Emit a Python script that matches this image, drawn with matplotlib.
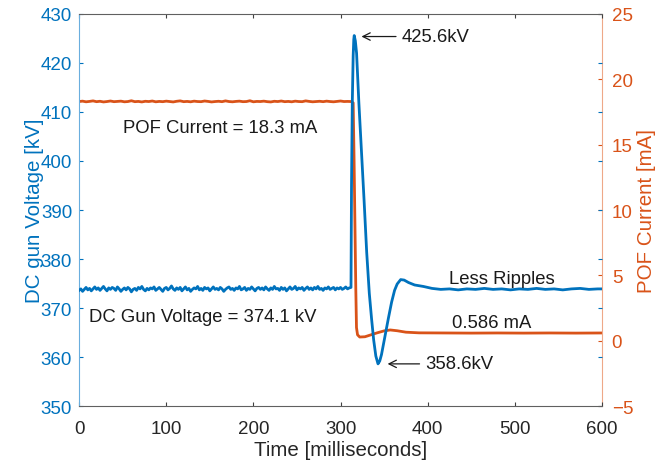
import matplotlib
matplotlib.use("Agg")
import matplotlib.pyplot as plt
import numpy as np

plt.rcParams['font.family'] = ['Liberation Sans', 'DejaVu Sans']

BLUE = '#0072BD'
ORANGE = '#D95319'

# ---- DC gun voltage (kV) ----
blue_pre_t = list(range(0, 312, 2))
blue_pre_v = [
    373.6, 373.9, 373.4, 373.8, 374.2, 373.7, 374.0, 373.5, 373.9, 374.3,
    373.8, 374.1, 373.6, 374.0, 374.4, 373.9, 373.5, 374.1, 373.8, 374.2,
    374.0, 373.6, 374.3, 373.9, 373.4, 373.8, 374.1, 373.7, 374.2, 373.9,
    373.3, 373.8, 374.0, 373.6, 374.2, 373.9, 374.4, 373.8, 373.5, 374.0,
    373.7, 374.1, 373.9, 374.3, 373.6, 373.9, 374.2, 373.8, 373.4, 374.0,
    374.2, 373.7, 374.0, 374.5, 373.9, 373.6, 374.1, 373.8, 374.2, 373.5,
    373.9, 374.3, 373.7, 374.0, 373.4, 373.8, 374.1, 373.9, 374.4, 373.7,
    374.0, 373.6, 374.2, 373.9, 374.1, 373.5, 373.9, 374.3, 373.8, 374.0,
    373.7, 374.2, 373.9, 373.4, 373.8, 374.1, 374.3, 373.8, 374.0, 373.6,
    374.1, 373.9, 374.4, 373.7, 373.9, 374.2, 373.6, 374.0, 373.8, 374.3,
    373.9, 373.5, 374.0, 374.2, 373.8, 374.1, 373.7, 374.3, 373.9, 373.6,
    374.1, 373.8, 374.4, 373.9, 374.0, 373.6, 374.2, 373.8, 374.1, 373.5,
    373.9, 374.3, 373.8, 374.0, 374.4, 373.7, 374.1, 373.9, 374.2, 373.6,
    374.0, 374.3, 373.8, 374.1, 373.7, 374.2, 373.9, 374.4, 373.8, 374.0,
    373.6, 374.1, 373.9, 374.3, 373.8, 374.0, 374.2, 373.7, 374.1, 373.9,
    374.2, 373.8, 374.0, 374.3, 373.9, 374.1,
]
blue_post_t = [312, 312.6, 313.5, 314.5, 315.2, 315.7, 317, 318.4, 321, 324, 327,
               330, 333, 335.6, 338, 340.5, 343, 345, 347, 351, 355, 358.6,
               362, 365, 369, 373, 378, 385, 395, 405, 415, 425, 435, 445,
               455, 465, 475, 485, 495, 505, 515, 525, 535, 545, 555, 565,
               575, 585, 595, 600]
blue_post_v = [374.2, 395.0, 412.0, 421.5, 424.8, 425.6, 424.5, 422.0, 412.0,
               402.0, 392.0, 381.4, 373.0, 367.8, 363.5, 360.2, 358.6, 359.2,
               360.5, 364.3, 368.0, 371.2, 373.6, 374.9, 375.8, 375.7, 375.2,
               374.7, 374.4, 374.0, 373.8, 373.9, 373.7, 373.9, 373.8, 374.0,
               373.8, 373.9, 373.7, 373.9, 373.8, 374.0, 373.8, 373.9, 373.7,
               373.9, 374.0, 373.8, 373.9, 373.9]

# ---- POF current (mA) ----
orange_pre_t = list(range(0, 314, 4))
orange_pre_v = [
    18.30, 18.33, 18.28, 18.31, 18.35, 18.29, 18.32, 18.27, 18.30, 18.34,
    18.29, 18.31, 18.33, 18.28, 18.30, 18.36, 18.29, 18.31, 18.27, 18.32,
    18.30, 18.34, 18.28, 18.31, 18.29, 18.33, 18.30, 18.27, 18.32, 18.35,
    18.29, 18.31, 18.28, 18.33, 18.30, 18.29, 18.34, 18.31, 18.27, 18.30,
    18.32, 18.29, 18.35, 18.30, 18.28, 18.31, 18.33, 18.29, 18.30, 18.36,
    18.28, 18.31, 18.30, 18.33, 18.29, 18.27, 18.32, 18.30, 18.34, 18.29,
    18.31, 18.28, 18.33, 18.30, 18.29, 18.35, 18.31, 18.28, 18.30, 18.32,
    18.29, 18.33, 18.30, 18.28, 18.31, 18.34, 18.30, 18.31, 18.30,
]
orange_post_t = [314.5, 315.5, 316.5, 317.5, 318.3, 319.5, 322, 328, 335, 342,
                 350, 357, 365, 375, 390, 420, 450, 480, 510, 540, 570, 600]
orange_post_v = [18.2, 14.0, 9.0, 4.0, 1.0, 0.45, 0.28, 0.30, 0.45, 0.60,
                 0.75, 0.82, 0.76, 0.65, 0.60, 0.59, 0.58, 0.59, 0.58, 0.59,
                 0.58, 0.59]

fig = plt.figure(figsize=(6.59, 4.64), dpi=100)
ax = fig.add_axes([0.12, 0.1228, 0.7935, 0.8449])
ax2 = ax.twinx()

ax.plot(blue_pre_t + blue_post_t, blue_pre_v + blue_post_v, color=BLUE, lw=2.0, zorder=3)
ax2.plot(orange_pre_t + orange_post_t, orange_pre_v + orange_post_v, color=ORANGE, lw=2.0, zorder=2)

ax.set_xlim(0, 600)
ax.set_ylim(350, 430)
ax2.set_ylim(-5, 25)
ax.set_xticks(range(0, 601, 100))
ax.set_yticks(range(350, 431, 10))
ax2.set_yticks(range(-5, 26, 5))

ax.set_zorder(ax2.get_zorder() + 1)
ax.patch.set_visible(False)

tls = 13.5
ax.tick_params(axis='y', direction='in', right=True, colors=BLUE, labelsize=tls, length=3, pad=5)
ax.tick_params(axis='x', direction='in', top=True, colors='#404040', labelcolor='#262626',
               labelsize=tls, length=3, pad=10)
ax2.tick_params(axis='y', direction='in', colors=ORANGE, labelsize=tls, length=3, pad=7)

ax.spines['left'].set_color('#6aaede')
ax.spines['right'].set_visible(False)
ax.spines['top'].set_color('#606060')
ax.spines['bottom'].set_color('#606060')
ax2.spines['right'].set_color('#eea888')
ax2.spines['left'].set_visible(False)
ax2.spines['top'].set_visible(False)
ax2.spines['bottom'].set_visible(False)
for s in ax.spines.values():
    s.set_linewidth(0.8)
ax2.spines['right'].set_linewidth(0.8)

lfs = 14.8
ax.set_xlabel('Time [milliseconds]', fontsize=lfs, color='#262626', labelpad=2)
ax.set_ylabel('DC gun Voltage [kV]', fontsize=lfs, color=BLUE, labelpad=-2)
ax2.set_ylabel('POF Current [mA]', fontsize=lfs, color=ORANGE, labelpad=3)

fs = 13.3
ax.text(50, 406.9, 'POF Current = 18.3 mA', fontsize=fs, va='center', ha='left', color='#1a1a1a')
ax.text(11.5, 368.2, 'DC Gun Voltage = 374.1 kV', fontsize=fs, va='center', ha='left', color='#1a1a1a')
ax.text(424, 376.0, 'Less Ripples', fontsize=fs, va='center', ha='left', color='#1a1a1a')
ax.text(428, 367.1, '0.586 mA', fontsize=fs, va='center', ha='left', color='#1a1a1a')
ax.annotate('425.6kV', xy=(324, 425.4), xytext=(370, 425.4), fontsize=fs, va='center',
            ha='left', color='#1a1a1a',
            arrowprops=dict(arrowstyle='->', color='#1a1a1a', lw=0.9, shrinkA=2, shrinkB=0))
ax.annotate('358.6kV', xy=(354, 358.6), xytext=(397, 358.6), fontsize=fs, va='center',
            ha='left', color='#1a1a1a',
            arrowprops=dict(arrowstyle='->', color='#1a1a1a', lw=0.9, shrinkA=2, shrinkB=0))

fig.savefig('out.png', dpi=100)
